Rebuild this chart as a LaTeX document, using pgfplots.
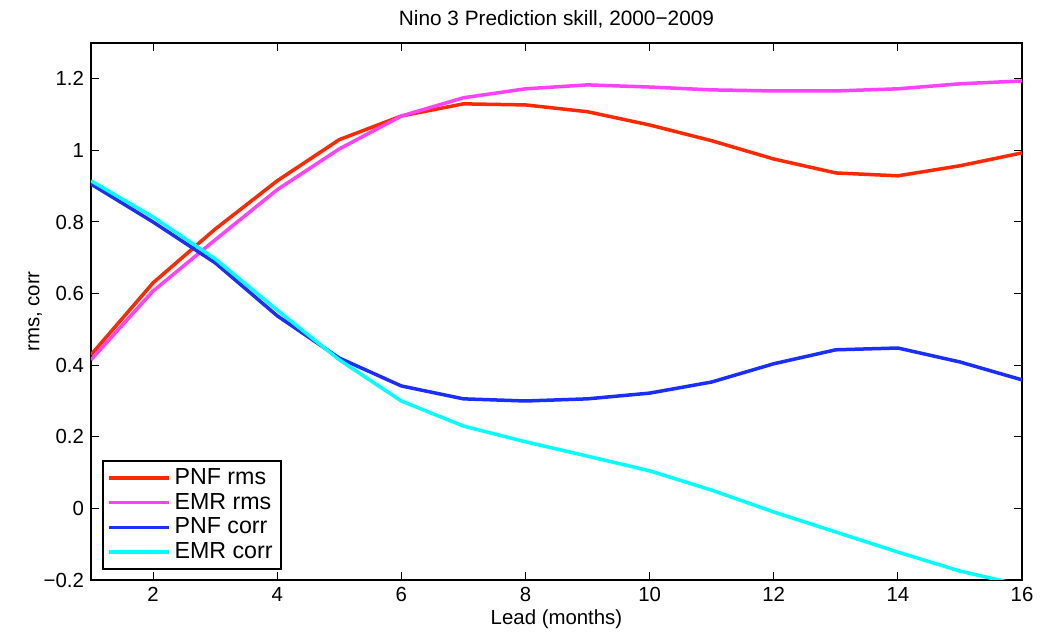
\documentclass[border=0pt]{standalone}
\usepackage{fontspec}
\setmainfont{Liberation Sans}
\usepackage{pgfplots}
\pgfplotsset{compat=1.18}
\definecolor{cred}{RGB}{255,40,0}
\definecolor{cmag}{RGB}{255,64,255}
\definecolor{cblue}{RGB}{26,46,255}
\definecolor{ccyan}{RGB}{0,255,255}
\begin{document}
\fontsize{10pt}{12pt}\selectfont
\begin{tikzpicture}
\useasboundingbox (-45.5pt,-28pt) rectangle (477.5pt,290pt);
\begin{axis}[
  at={(0,0)}, anchor=south west,
  scale only axis, width=465.5pt, height=268.5pt,
  xmin=1, xmax=16, ymin=-0.2, ymax=1.3,
  xtick={2,4,...,16},
  ytick={-0.2,0,0.2,0.4,0.6,0.8,1,1.2},
  yticklabels={−0.2,0,0.2,0.4,0.6,0.8,1,1.2},
  tick align=inside, major tick length=4pt,
  tick style={black, line width=0.5pt},
  axis line style={line width=0.6pt},
  /pgf/number format/assume math mode=true,
  ticklabel style={font=\fontsize{10.2pt}{12pt}\selectfont},
  title={Nino 3 Prediction skill, 2000−2009},
  title style={font=\fontsize{10.4pt}{12pt}\selectfont, yshift=-2pt},
  xlabel={Lead (months)},
  ylabel={rms, corr},
  xlabel style={font=\fontsize{10.2pt}{12pt}\selectfont, yshift=3pt},
  ylabel style={font=\fontsize{10.2pt}{12pt}\selectfont, yshift=-6pt},
  legend style={at={(0.012,0.018)}, anchor=south west, draw=black, line width=1pt,
    font=\fontsize{11.6pt}{13pt}\selectfont, inner sep=2pt, row sep=-1.2pt},
  legend cell align=left,
  legend image code/.code={\draw[#1, line width=1.75pt] (0pt,0pt) -- (30pt,0pt);},
  clip=true,
]
\addplot[cred, line width=1.75pt] coordinates {
(1,0.429)(2,0.630)(3,0.780)(4,0.915)(5,1.030)(6,1.096)(7,1.130)(8,1.127)(9,1.108)(10,1.071)(11,1.027)(12,0.976)(13,0.937)(14,0.929)(15,0.957)(16,0.993)};
\addlegendentry{PNF rms}
\addplot[cmag, line width=1.75pt] coordinates {
(1,0.415)(2,0.607)(3,0.750)(4,0.890)(5,1.004)(6,1.096)(7,1.147)(8,1.172)(9,1.183)(10,1.177)(11,1.169)(12,1.166)(13,1.166)(14,1.172)(15,1.186)(16,1.194)};
\addlegendentry{EMR rms}
\addplot[cblue, line width=1.75pt] coordinates {
(1,0.906)(2,0.800)(3,0.686)(4,0.538)(5,0.420)(6,0.342)(7,0.306)(8,0.300)(9,0.306)(10,0.322)(11,0.353)(12,0.404)(13,0.443)(14,0.448)(15,0.409)(16,0.359)};
\addlegendentry{PNF corr}
\addplot[ccyan, line width=1.75pt] coordinates {
(1,0.915)(2,0.814)(3,0.697)(4,0.554)(5,0.415)(6,0.300)(7,0.230)(8,0.186)(9,0.146)(10,0.105)(11,0.051)(12,-0.010)(13,-0.066)(14,-0.122)(15,-0.175)(16,-0.215)};
\addlegendentry{EMR corr}
\end{axis}
\end{tikzpicture}
\end{document}
